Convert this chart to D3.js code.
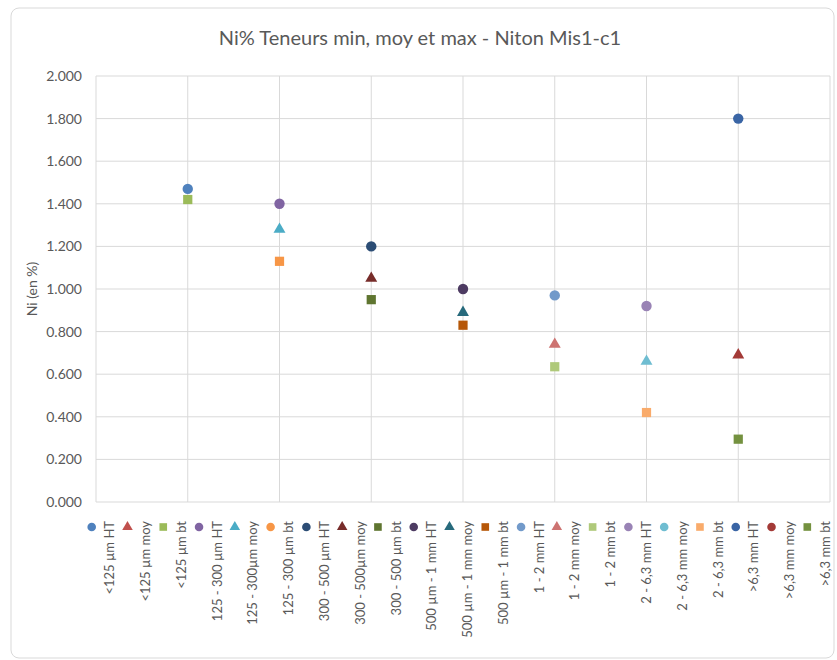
<!DOCTYPE html>
<html>
<head>
<meta charset="utf-8">
<script src="https://cdn.jsdelivr.net/npm/d3@7"></script>
<style>
body { margin: 0; background: #fff; }
text { font-family: Lato, "Open Sans", sans-serif; fill: #595959; }
</style>
</head>
<body>
<div id="chart"></div>
<script>
// size classes, one x position each
var classes = ["<125 µm", "125 - 300 µm", "300 - 500 µm", "500 µm - 1 mm", "1 - 2 mm", "2 - 6,3 mm", ">6,3 mm"];
// Ni % per class (HT = max, moy = mean, bt = min)
var htValues  = [1.47, 1.40, 1.20, 1.00, 0.97, 0.92, 1.80];
var moyValues = [null, 1.28, 1.05, 0.89, 0.74, 0.66, 0.69];
var btValues  = [1.42, 1.13, 0.95, 0.83, 0.635, 0.42, 0.295];

var legendLabels = [
  "<125 µm HT", "<125 µm moy", "<125 µm bt",
  "125 - 300 µm HT", "125 - 300µm moy", "125 - 300 µm bt",
  "300 - 500 µm HT", "300 - 500µm moy", "300 - 500 µm bt",
  "500 µm - 1 mm HT", "500 µm - 1 mm moy", "500 µm - 1 mm bt",
  "1 - 2 mm HT", "1 - 2 mm moy", "1 - 2 mm bt",
  "2 - 6,3 mm HT", "2 - 6,3 mm moy", "2 - 6,3 mm bt",
  ">6,3 mm HT", ">6,3 mm moy", ">6,3 mm bt"
];
var seriesColors = [
  "#4F81BD", "#C0504D", "#9BBB59",
  "#8064A2", "#4BACC6", "#F79646",
  "#2C4D75", "#772C2A", "#5F7530",
  "#4D3B62", "#276A7C", "#B65708",
  "#729ACA", "#CD7371", "#AFC97A",
  "#9983B5", "#6FBDD1", "#F9AB6B",
  "#3A65A5", "#A33A37", "#74913F"
];
var plotShapes = ["circle", "triangle", "square"];
var legendShapes = [
  "circle", "triangle", "square",
  "circle", "triangle", "circle",
  "circle", "triangle", "square",
  "circle", "triangle", "square",
  "circle", "triangle", "square",
  "circle", "circle", "square",
  "circle", "circle", "square"
];
var yTicks = [0, 0.2, 0.4, 0.6, 0.8, 1.0, 1.2, 1.4, 1.6, 1.8, 2.0];

var width = 837, height = 660;
var plot = { left: 96, right: 830, top: 76, bottom: 502 };

var svg = d3.select("#chart").append("svg")
  .attr("width", width).attr("height", height);

// chart frame
svg.append("rect")
  .attr("x", 11).attr("y", 8)
  .attr("width", 823).attr("height", 650)
  .attr("rx", 8)
  .attr("fill", "#fff")
  .attr("stroke", "#d9d9d9");

svg.append("text")
  .attr("x", 420).attr("y", 45)
  .attr("text-anchor", "middle")
  .style("font-size", "20px")
  .text("Ni% Teneurs min, moy et max - Niton Mis1-c1");

var x = d3.scaleLinear().domain([0, classes.length + 1]).range([plot.left, plot.right]);
var y = d3.scaleLinear().domain([0, 2]).range([plot.bottom, plot.top]);

// gridlines
svg.append("g")
  .selectAll("line")
  .data(yTicks)
  .enter().append("line")
    .attr("x1", plot.left).attr("x2", plot.right)
    .attr("y1", function(d) { return y(d); })
    .attr("y2", function(d) { return y(d); })
    .attr("stroke", "#d9d9d9").attr("stroke-width", 1);

svg.append("g")
  .selectAll("line")
  .data(d3.range(0, classes.length + 2))
  .enter().append("line")
    .attr("x1", function(d) { return x(d); })
    .attr("x2", function(d) { return x(d); })
    .attr("y1", plot.top).attr("y2", plot.bottom)
    .attr("stroke", "#d9d9d9").attr("stroke-width", 1);

// y axis labels
var yAxis = svg.append("g")
  .attr("transform", "translate(" + plot.left + ",0)")
  .call(d3.axisLeft(y).tickValues(yTicks).tickFormat(d3.format(".3f")).tickSize(0).tickPadding(14));
yAxis.select(".domain").remove();
yAxis.selectAll("text")
  .style("font-family", "Lato, 'Open Sans', sans-serif")
  .style("font-size", "14px")
  .attr("fill", "#595959");

svg.append("text")
  .attr("transform", "translate(32," + ((plot.top + plot.bottom) / 2) + ") rotate(-90)")
  .attr("text-anchor", "middle")
  .attr("dy", "0.35em")
  .style("font-size", "14px")
  .text("Ni (en %)");

function symbolPath(shape, size) {
  var type = shape === "circle" ? d3.symbolCircle : shape === "square" ? d3.symbolSquare : d3.symbolTriangle;
  return d3.symbol().type(type).size(size)();
}

// points, drawn in Excel series order
var points = [];
classes.forEach(function(c, i) {
  [htValues[i], moyValues[i], btValues[i]].forEach(function(v, k) {
    if (v === null) return;
    points.push({ pos: i + 1, value: v, shape: plotShapes[k], color: seriesColors[i * 3 + k] });
  });
});

svg.append("g")
  .selectAll("path")
  .data(points)
  .enter().append("path")
    .attr("transform", function(d) { return "translate(" + x(d.pos) + "," + y(d.value) + ")"; })
    .attr("d", function(d) { return symbolPath(d.shape, d.shape === "triangle" ? 62 : 85); })
    .attr("fill", function(d) { return d.color; });

// legend below the plot
var legendX = d3.scaleLinear().domain([0, legendLabels.length - 1]).range([91.7, 807.3]);
var legend = svg.append("g")
  .selectAll("g")
  .data(legendLabels)
  .enter().append("g")
    .attr("transform", function(d, i) { return "translate(" + legendX(i) + ",527)"; });

legend.append("path")
  .attr("d", function(d, i) { return symbolPath(legendShapes[i], legendShapes[i] === "triangle" ? 48 : 58); })
  .attr("fill", function(d, i) { return seriesColors[i]; });

legend.append("text")
  .attr("transform", "translate(18,-6) rotate(-90)")
  .attr("text-anchor", "end")
  .attr("dy", "0.35em")
  .style("font-size", "13px")
  .text(function(d) { return d; });
</script>
</body>
</html>
